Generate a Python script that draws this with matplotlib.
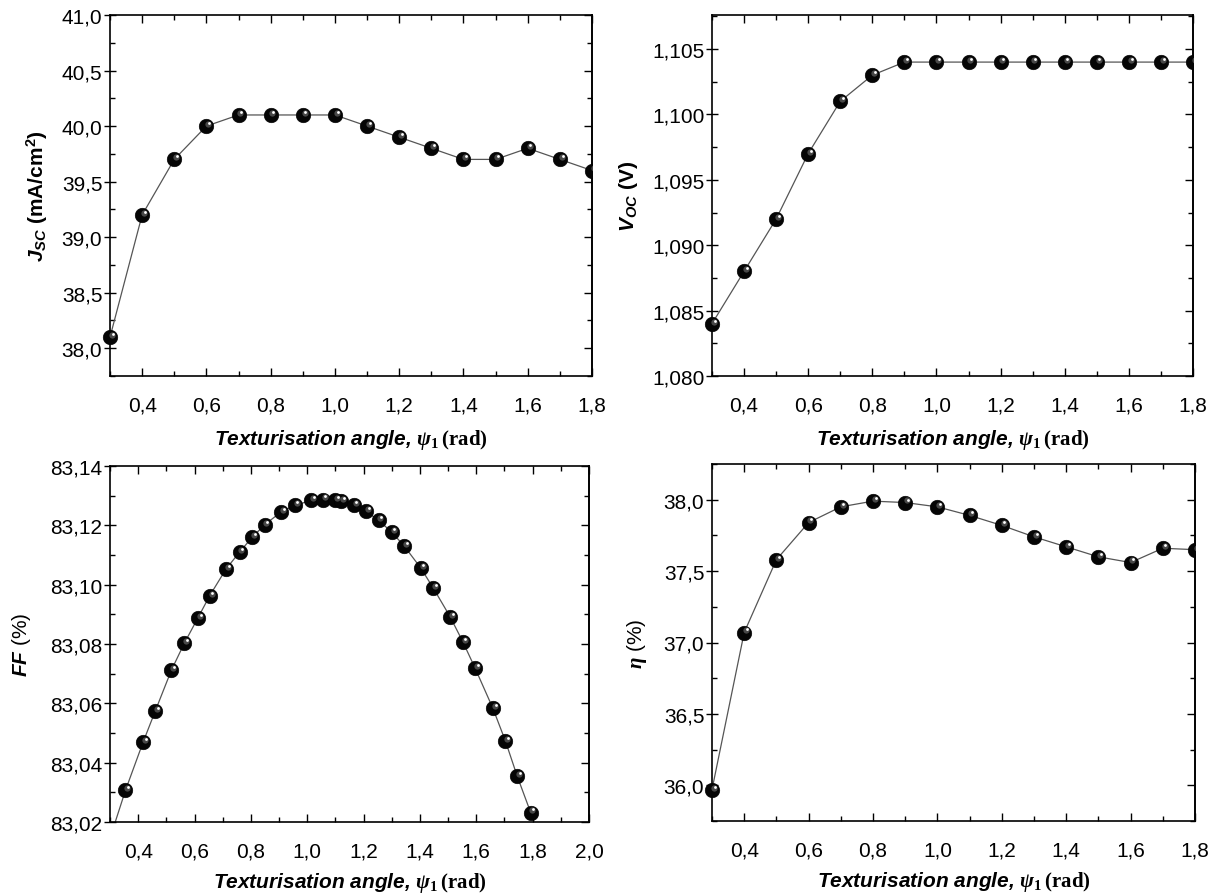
import matplotlib
matplotlib.use("Agg")
import matplotlib.pyplot as plt
from matplotlib.ticker import MultipleLocator, FuncFormatter
from matplotlib.transforms import Bbox, TransformedBbox, offset_copy

plt.rcParams['font.family'] = 'Liberation Sans'
plt.rcParams['mathtext.fontset'] = 'custom'
plt.rcParams['mathtext.rm'] = 'Liberation Serif:bold'
plt.rcParams['mathtext.it'] = 'Liberation Serif:italic:bold'
plt.rcParams['mathtext.sf'] = 'Liberation Sans:italic:bold'
plt.rcParams['mathtext.bf'] = 'Liberation Sans:bold'

# texturisation angle (rad)
psi = [0.3, 0.4, 0.5, 0.6, 0.7, 0.8, 0.9, 1.0, 1.1, 1.2, 1.3, 1.4, 1.5, 1.6, 1.7, 1.8]

# short-circuit current density (mA/cm2)
jsc = [38.1, 39.2, 39.7, 40.0, 40.1, 40.1, 40.1, 40.1, 40.0, 39.9, 39.8, 39.7, 39.7, 39.8, 39.7, 39.6]

# open-circuit voltage (V)
voc = [1.084, 1.088, 1.092, 1.097, 1.101, 1.103, 1.104, 1.104, 1.104, 1.104,
       1.104, 1.104, 1.104, 1.104, 1.104, 1.104]

# efficiency (%)
eta = [35.97, 37.07, 37.58, 37.84, 37.95, 37.99, 37.98, 37.95, 37.89, 37.82,
       37.74, 37.67, 37.60, 37.56, 37.66, 37.65]

# fill factor has its own, finer angle sweep
psi_ff = [0.305, 0.355, 0.417, 0.461, 0.518, 0.564, 0.612, 0.654, 0.712, 0.760, 0.804,
          0.849, 0.907, 0.956, 1.013, 1.055, 1.099, 1.121, 1.165, 1.209, 1.253,
          1.300, 1.345, 1.403, 1.447, 1.507, 1.552, 1.596, 1.659, 1.703, 1.745, 1.793]
ff = [83.016, 83.0307, 83.0468, 83.0575, 83.0712, 83.0803, 83.0888, 83.0963, 83.1053,
      83.1110, 83.1159, 83.1202, 83.1245, 83.1267, 83.1284, 83.1287, 83.1285,
      83.1282, 83.1269, 83.1247, 83.1217, 83.1177, 83.1129, 83.1056, 83.0989,
      83.0892, 83.0808, 83.0718, 83.0583, 83.0474, 83.0355, 83.0232]

W, H = 1220, 895
fig = plt.figure(figsize=(W / 100, H / 100), dpi=100)


def box(l, t, r, b):
    return [l / W, 1 - b / H, (r - l) / W, (b - t) / H]


def comma(nd):
    return FuncFormatter(lambda v, p: f"{v:.{nd}f}".replace('.', ','))


def balls(ax, x, y):
    clip = TransformedBbox(Bbox([[-0.03, 0.0], [1.0, 1.0]]), ax.transAxes)
    arts = ax.plot(x, y, '-', color='#555555', lw=0.9, zorder=2)
    arts += ax.plot(x, y, 'o', ms=10.5, mfc='#050505', mec='#000000', mew=0.4, zorder=3)
    sh1 = offset_copy(ax.transData, fig=fig, x=1.3, y=1.5, units='points')
    sh2 = offset_copy(ax.transData, fig=fig, x=1.9, y=2.2, units='points')
    arts += ax.plot(x, y, 'o', ms=4.5, mfc='#5a5a5a', mec='none', alpha=0.8,
                    transform=sh1, zorder=4)
    arts += ax.plot(x, y, 'o', ms=2.0, mfc='white', mec='none', transform=sh2, zorder=5)
    for a in arts:
        a.set_clip_path(None)
        a.set_clip_box(clip)


def style(ax, xlim, ylim, ymaj, ymin, ynd, xlab_y, ylab_x):
    ax.set_xlim(*xlim)
    ax.set_ylim(*ylim)
    ax.xaxis.set_major_locator(MultipleLocator(0.2))
    ax.xaxis.set_minor_locator(MultipleLocator(0.1))
    ax.yaxis.set_major_locator(MultipleLocator(ymaj))
    ax.yaxis.set_minor_locator(MultipleLocator(ymin))
    ax.xaxis.set_major_formatter(comma(1))
    ax.yaxis.set_major_formatter(comma(ynd))
    for s in ax.spines.values():
        s.set_linewidth(1.2)
    ax.tick_params(axis='x', which='both', direction='in', top=True, labelsize=15,
                   pad=14, width=1.0)
    ax.tick_params(axis='x', which='major', length=6)
    ax.tick_params(axis='x', which='minor', length=3.5)
    ax.tick_params(axis='y', which='major', direction='inout', length=9, width=1.0,
                   labelsize=15, pad=1)
    ax.tick_params(axis='y', which='minor', direction='in', length=3.5, width=1.0)
    right = ax.secondary_yaxis('right')
    right.yaxis.set_major_locator(MultipleLocator(ymaj))
    right.yaxis.set_minor_locator(MultipleLocator(ymin))
    right.tick_params(which='both', direction='in', labelright=False, width=1.0)
    right.tick_params(which='major', length=6)
    right.tick_params(which='minor', length=3.5)
    right.spines['right'].set_linewidth(1.2)
    ax.set_xlabel(r'Texturisation angle, $\psi_{\mathit{1}}\,\mathrm{(rad)}$',
                  fontsize=15, fontweight='bold', fontstyle='italic')
    ax.xaxis.set_label_coords(0.5, xlab_y)
    ax.yaxis.set_label_coords(ylab_x, 0.5)


# J_sc
ax1 = fig.add_axes(box(110, 16, 592, 377))
balls(ax1, psi, jsc)
style(ax1, (0.3, 1.8), (37.75, 41.0), 0.5, 0.25, 1, -0.14, -0.125)
ax1.set_ylabel(r'$\mathsf{J}_{\mathsf{SC}}$ (mA/cm$^{\mathbf{2}}$)', fontsize=15,
               fontweight='bold')

# V_oc
ax2 = fig.add_axes(box(712, 16, 1193, 377))
balls(ax2, psi, voc)
style(ax2, (0.3, 1.8), (1.080, 1.1076), 0.005, 0.0025, 3, -0.14, -0.15)
ax2.set_ylabel(r'$\mathsf{V}_{\mathsf{OC}}$ (V)', fontsize=15, fontweight='bold')

# FF
ax3 = fig.add_axes(box(110, 467, 589, 823))
balls(ax3, psi_ff, ff)
style(ax3, (0.3, 2.0), (83.02, 83.14), 0.02, 0.01, 2, -0.135, -0.16)
ax3.set_ylabel(r'$\mathsf{FF}$ (%)', fontsize=15)

# efficiency
ax4 = fig.add_axes(box(712, 465, 1195, 822))
balls(ax4, psi, eta)
style(ax4, (0.3, 1.8), (35.75, 38.25), 0.5, 0.25, 1, -0.135, -0.13)
ax4.set_ylabel(r'$\eta$ (%)', fontsize=15)

fig.savefig("out.png", dpi=100)
